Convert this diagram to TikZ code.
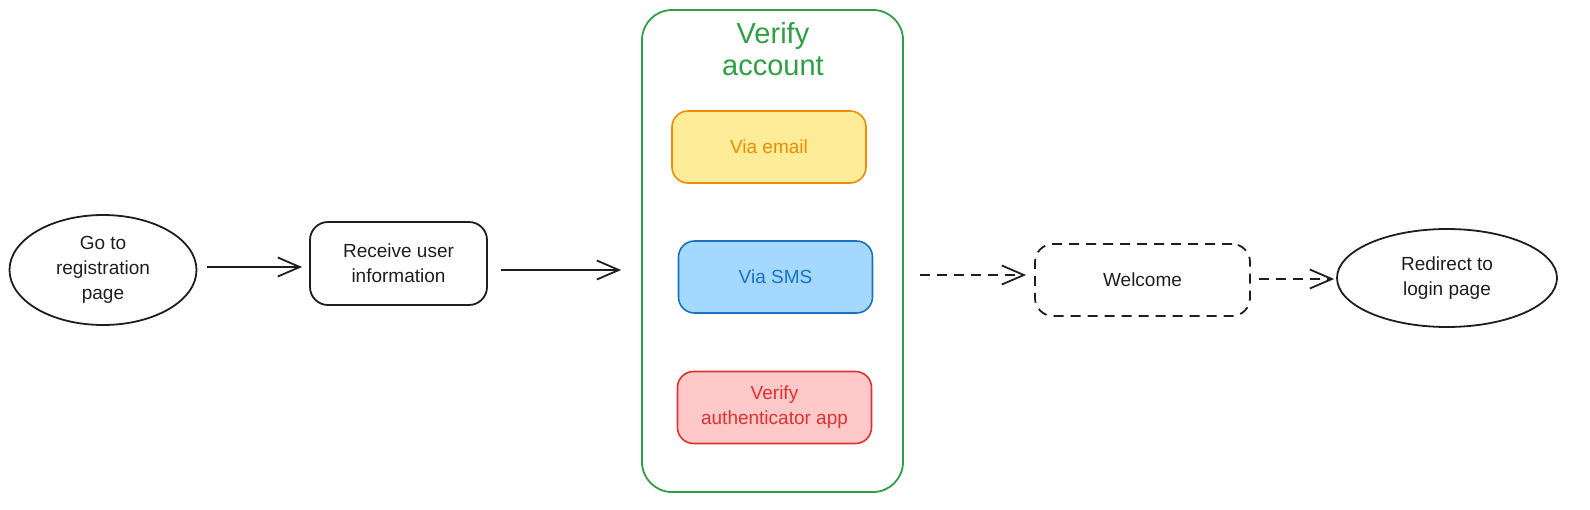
\documentclass[tikz,border=0pt]{standalone}
\usepackage{fontspec}
\setmainfont{Liberation Sans}
\usetikzlibrary{arrows.meta,shapes.geometric}
\definecolor{ink}{HTML}{1E1E1E}
\definecolor{grn}{HTML}{2F9E44}
\definecolor{ylwfill}{HTML}{FFEC99}
\definecolor{ylwline}{HTML}{F08C00}
\definecolor{bluefill}{HTML}{A5D8FF}
\definecolor{blueline}{HTML}{1971C2}
\definecolor{redfill}{HTML}{FFC9C9}
\definecolor{redline}{HTML}{E03131}
\tikzset{
  base/.style={line width=1.8pt, draw=ink, text=ink, align=center, inner sep=0pt,
    font=\fontsize{19}{25}\selectfont},
  oval/.style={base, ellipse},
  rbox/.style={base, rectangle, rounded corners=18pt},
  optbox/.style={base, rectangle, rounded corners=16pt, line width=1.6pt,
    minimum width=194pt, minimum height=72pt},
  arr/.style={line width=1.8pt, draw=ink, -{Straight Barb[length=22pt,width=19pt,line width=1.8pt]}},
  dsh/.style={dash pattern=on 10pt off 7pt},
}
\begin{document}
\begin{tikzpicture}[x=1pt,y=-1pt]
\useasboundingbox (0,0) rectangle (1590,509);
\node[oval, minimum width=187pt, minimum height=110pt] (go) at (103,270) {Go to\\registration\\page};
\node[rbox, minimum width=177pt, minimum height=83pt] (recv) at (398.5,263.5) {Receive user\\information};
\node[base, draw=grn, rounded corners=30pt, minimum width=261pt, minimum height=482pt] (cont) at (772.5,251) {};
\node[base, draw=none, text=grn, font=\fontsize{29}{32}\selectfont] (title) at (773,49) {Verify\\account};
\node[optbox, draw=ylwline, fill=ylwfill, text=ylwline] (email) at (769,147) {Via email};
\node[optbox, draw=blueline, fill=bluefill, text=blueline] (sms) at (775.5,277) {Via SMS};
\node[optbox, draw=redline, fill=redfill, text=redline] (app) at (774.5,407.5) {Verify\\authenticator app};
\node[rbox, dsh, minimum width=215pt, minimum height=72pt] (wel) at (1142.5,280) {Welcome};
\node[oval, minimum width=220pt, minimum height=98pt] (redir) at (1447,278) {Redirect to\\login page};
\draw[arr, shorten <=10pt, shorten >=7pt] ([yshift=3pt]go.east) -- ([yshift=3pt]go.east -| recv.west);
\draw[arr, shorten <=13pt, shorten >=20pt] ([yshift=-6.5pt]recv.east) -- ([yshift=-6.5pt]recv.east -| cont.west);
\draw[arr, dsh, shorten <=16pt, shorten >=8pt] ([yshift=5pt]wel.west -| cont.east) -- ([yshift=5pt]wel.west);
\draw[arr, dsh, shorten <=8pt, shorten >=2pt] ([yshift=1pt]wel.east) -- ([yshift=1pt]wel.east -| redir.west);
\end{tikzpicture}
\end{document}
